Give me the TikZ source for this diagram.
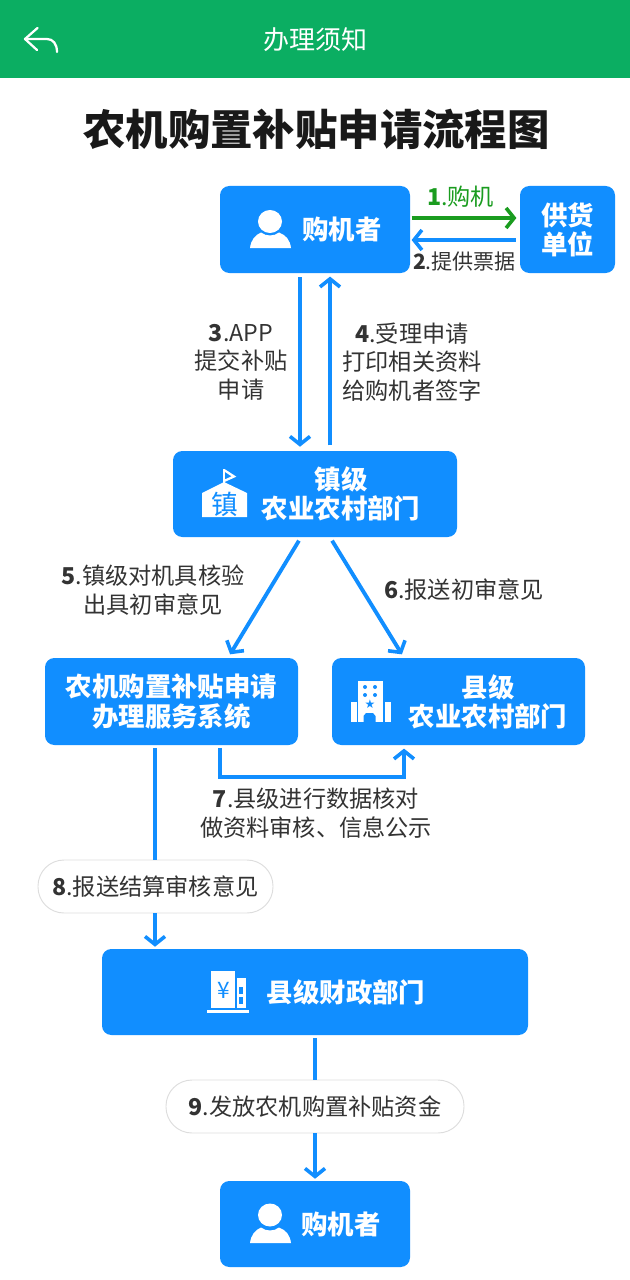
\documentclass[tikz,border=0pt]{standalone}
\usepackage{fontspec}
\setmainfont{Noto Sans CJK SC}
\newfontfamily\blackfont{Noto Sans CJK SC Black}
\usetikzlibrary{arrows.meta}
\definecolor{hdr}{HTML}{0BAE62}
\definecolor{bl}{HTML}{118EFF}
\definecolor{gr}{HTML}{1A9C1F}
\definecolor{tx}{HTML}{333333}
\definecolor{pl}{HTML}{DDDDDD}
\tikzset{
  x=0.75pt,y=-0.75pt,
  bx/.style n args={2}{minimum width=#1*0.75pt,minimum height=#2*0.75pt},
  bluebox/.style={fill=bl,rounded corners=7pt,inner sep=0pt,text=white,align=center,font=\fontsize{19.8}{22}\selectfont\bfseries},
  boxlabel/.style={text=white,inner sep=0pt,align=center,font=\fontsize{19.8}{22}\selectfont\bfseries},
  lab/.style={text=tx,inner sep=0pt,align=center,font=\fontsize{17.4}{21.4}\selectfont},
  pill/.style={fill=white,draw=pl,line width=0.7pt,rounded corners=19.5pt,inner sep=0pt,text=tx,font=\fontsize{17.4}{21.4}\selectfont},
  arr/.style={draw=bl,line width=2.9pt,-{Straight Barb[length=6pt,width=15pt,line width=2.7pt]}},
  plainline/.style={draw=bl,line width=2.9pt},
  garr/.style={draw=gr,line width=2.9pt,-{Straight Barb[length=6pt,width=15pt,line width=2.7pt]}},
  icon/.style={fill=white,draw=none},
}
\begin{document}
\begin{tikzpicture}
\useasboundingbox (0,0) rectangle (630,1280);
\fill[white] (0,0) rectangle (630,1280);
% header
\fill[hdr] (0,0) rectangle (630,78);
\coordinate (backtip) at (25,39);
\draw[white,line width=1.7pt,line cap=round,line join=round] (37.5,28) -- (backtip) -- (37,50);
\draw[white,line width=1.7pt,line cap=round] (backtip) -- (47,39) .. controls (53,39) and (57,44) .. (57,52);
\node[text=white,inner sep=0pt,font=\fontsize{19.5}{24}\selectfont] (hdrtitle) at (315,40) {办理须知};
\node[text=black!90,inner sep=0pt,font=\fontsize{31.8}{38}\selectfont\blackfont] (title) at (316.5,129) {农机购置补贴申请流程图};
% boxes
\node[bluebox,bx={190}{87}] (buyer) at (315,229.5) {};
\node[bluebox,bx={95}{87}] (supplier) at (567.5,229.5) {供货\\单位};
\node[bluebox,bx={284}{86}] (town) at (315,494) {};
\node[bluebox,bx={253}{87}] (sys) at (171.5,701.5) {农机购置补贴申请\\办理服务系统};
\node[bluebox,bx={253}{87}] (county) at (458.5,701.5) {};
\node[bluebox,bx={426}{86}] (finance) at (315,992) {};
\node[bluebox,bx={190}{86}] (buyerb) at (315,1224) {};
% box labels
\node[boxlabel] (buyerlab) at (342,229) {购机者};
\node[boxlabel] (townlab) at (341,494) {镇级\\农业农村部门};
\node[boxlabel] (countylab) at (488,702) {县级\\农业农村部门};
\node[boxlabel] (finlab) at (346,992) {县级财政部门};
\node[boxlabel] (buyerblab) at (341,1224) {购机者};
% person icons
\fill[icon] (270,221.5) ellipse [x radius=12,y radius=11.5];
\fill[icon] (250,248) .. controls (251,240) and (255,235) .. (261,232.5) .. controls (266,236.5) and (274,236.5) .. (279,232.5) .. controls (286,235) and (290,240) .. (291,248) -- cycle;
\fill[icon] (270,1215) ellipse [x radius=12,y radius=11.5];
\fill[icon] (250,1243) .. controls (251,1235) and (255,1230) .. (261,1227.5) .. controls (266,1231.5) and (274,1231.5) .. (279,1227.5) .. controls (286,1230) and (290,1235) .. (291,1243) -- cycle;
% school icon
\fill[icon] (202,493) -- (224,482) -- (247,493) -- (247,517) -- (202,517) -- cycle;
\draw[white,line width=1.4pt] (224,469) -- (224,483);
\draw[white,line width=1.7pt,line join=miter] (224,470) -- (234,476.5) -- (224,481);
\node[text=bl,inner sep=0pt,font=\fontsize{20}{24}\selectfont] (zhen) at (224.5,504) {镇};
% county building icon
\fill[icon] (358,681) rectangle (383,722);
\fill[icon] (351,702) rectangle (357,722);
\fill[icon] (385,702) rectangle (391,722);
\foreach \xx in {365,375}{
  \foreach \yy in {687,695}{
    \fill[bl] (\xx,\yy) ellipse [x radius=2,y radius=2];
  }
}
\fill[bl] (363.5,722) -- (363.5,716) -- (366,713) -- (373,713) -- (375.5,716) -- (375.5,722) -- cycle;
\node[text=bl,inner sep=0pt,font=\fontsize{9}{10}\selectfont\fontspec{DejaVu Sans}] (star) at (370,704) {★};
% finance icon
\fill[icon] (211,971) rectangle (235,1008);
\fill[icon] (237,978) rectangle (246,1008);
\fill[icon] (207,1010) rectangle (249,1013);
\fill[bl] (239,987) rectangle (243,994);
\fill[bl] (239,997) rectangle (243,1004);
\node[text=bl,inner sep=0pt,font=\fontsize{17}{19}\selectfont] (yen) at (224,990) {¥};
% guide coordinates
\coordinate (c3) at (300,0);
\coordinate (c4) at (330,0);
\coordinate (c5a) at (301,0);
\coordinate (c5b) at (228,0);
\coordinate (c6a) at (330,0);
\coordinate (c6b) at (404,0);
\coordinate (c7a) at (220,777);
\coordinate (c7b) at (404,777);
\coordinate (c8) at (155,0);
\coordinate (c9) at (315,0);
\coordinate (r1) at (0,218);
\coordinate (r2) at (0,240);
% pills
\node[pill,bx={235}{53}] (p8) at (155.5,886.5) {\textbf{8}.报送结算审核意见};
\node[pill,bx={298}{53}] (p9) at (315,1106.5) {\textbf{9}.发放农机购置补贴资金};
% connectors
\draw[garr,shorten <=1pt,shorten >=2.5pt] (buyer.east |- r1) -- (supplier.west |- r1);
\draw[arr,shorten <=3pt,shorten >=1pt] (supplier.west |- r2) -- (buyer.east |- r2);
\draw[arr,shorten <=3pt,shorten >=3pt] (buyer.south -| c3) -- (town.north -| c3);
\draw[arr,shorten <=4pt,shorten >=2.5pt] (town.north -| c4) -- (buyer.south -| c4);
\draw[arr,shorten <=3pt,shorten >=3pt] (town.south -| c5a) -- (sys.north -| c5b);
\draw[arr,shorten <=3pt,shorten >=3pt] (town.south -| c6a) -- (county.north -| c6b);
\draw[arr,shorten >=2.5pt,shorten <=2pt] (sys.south -| c7a) -- (c7a) -- (c7b) -- (county.south -| c7b);
\draw[plainline,shorten <=2pt] (sys.south -| c8) -- (p8.north -| c8);
\draw[arr,shorten >=1.5pt] (p8.south -| c8) -- (finance.north -| c8);
\draw[plainline,shorten <=2pt] (finance.south -| c9) -- (p9.north -| c9);
\draw[arr,shorten >=1.5pt] (p9.south -| c9) -- (buyerb.north -| c9);
% labels
\node[lab,text=gr] (l1) at (460.5,197) {\textbf{1}.购机};
\node[lab,font=\fontsize{15.8}{20}\selectfont] (l2) at (464.5,262) {\textbf{2}.提供票据};
\node[lab] (l3) at (241,362) {\textbf{3}.APP\\提交补贴\\申请};
\node[lab] (l4) at (412,362) {\textbf{4}.受理申请\\打印相关资料\\给购机者签字};
\node[lab] (l5) at (153,590) {\textbf{5}.镇级对机具核验\\出具初审意见};
\node[lab] (l6) at (464,590) {\textbf{6}.报送初审意见};
\node[lab] (l7) at (316,813) {\textbf{7}.县级进行数据核对\\做资料审核、信息公示};
\end{tikzpicture}
\end{document}
